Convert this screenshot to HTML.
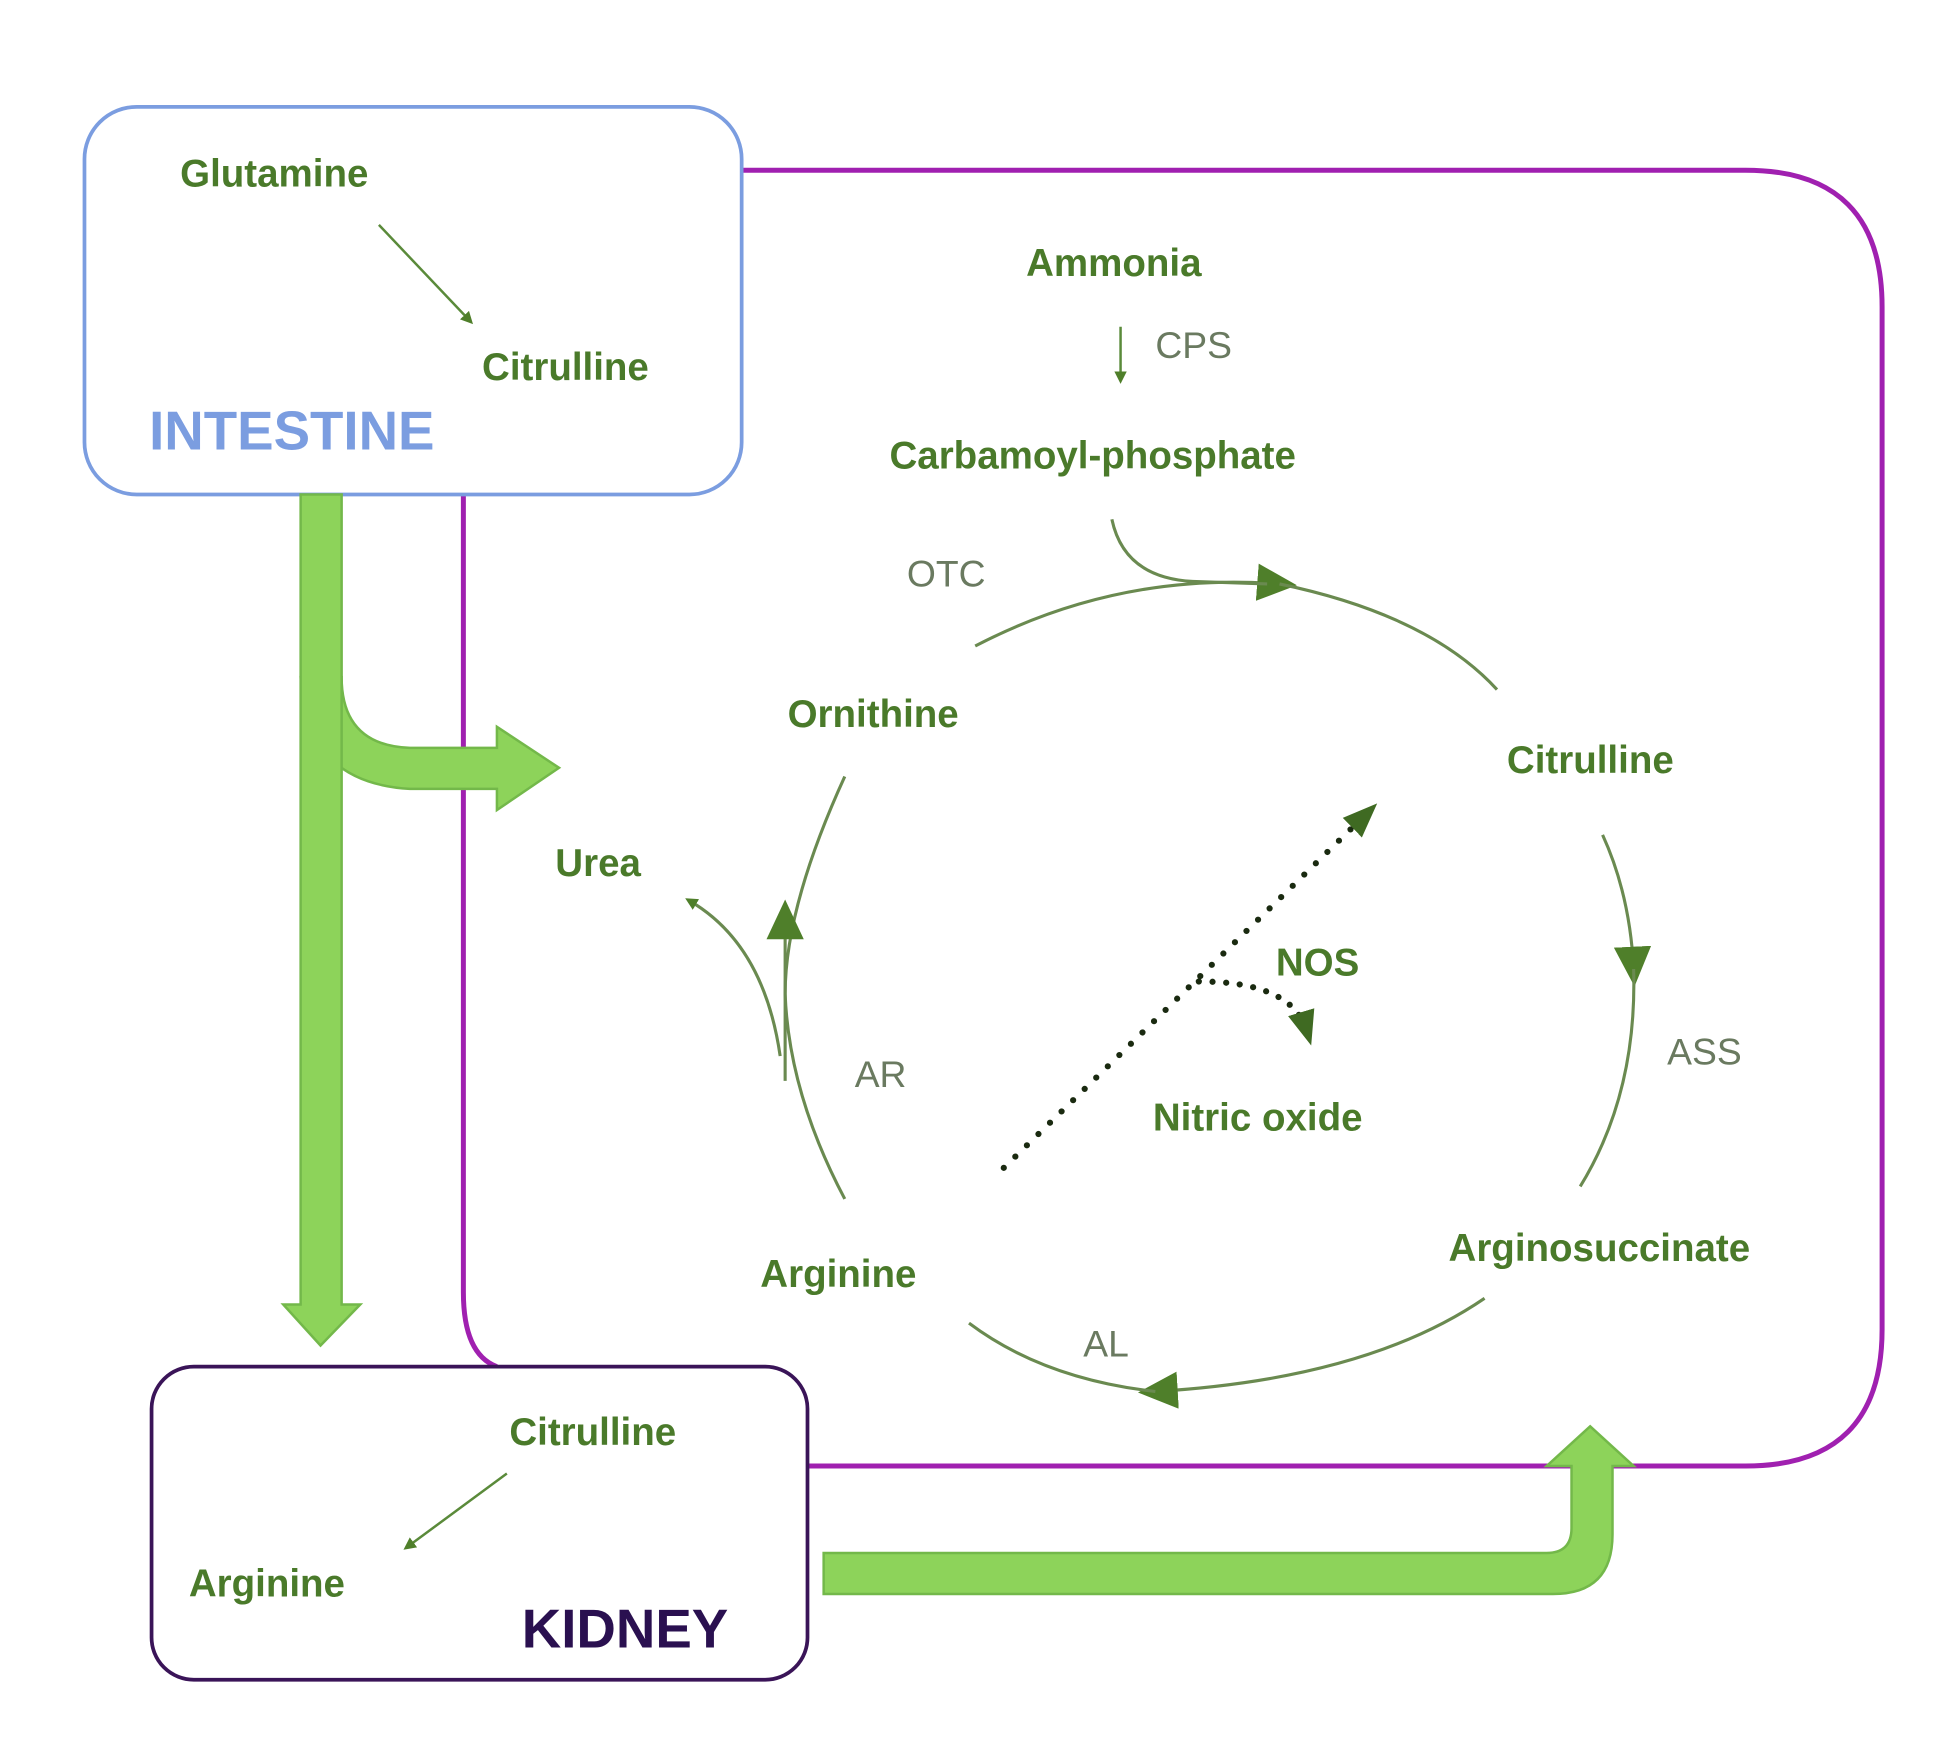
<!DOCTYPE html>
<html><head><style>html,body{margin:0;padding:0;background:#fff}svg{display:block}</style></head>
<body>
<svg width="1938" height="1758" viewBox="0 0 1560 1415" preserveAspectRatio="none" xmlns="http://www.w3.org/2000/svg">
<defs>
<marker id="ah" markerWidth="10" markerHeight="10" refX="6" refY="5" orient="auto" markerUnits="userSpaceOnUse"><path d="M0,0 L10,5 L0,10 z" fill="#4f7f2a"/></marker>
<marker id="bh" markerWidth="32" markerHeight="30" refX="18" refY="15" orient="auto" markerUnits="userSpaceOnUse"><path d="M0,0 L32,15 L0,30 z" fill="#4f7f2a"/></marker>
<marker id="dh" markerWidth="28" markerHeight="28" refX="16" refY="14" orient="auto" markerUnits="userSpaceOnUse"><path d="M0,3 L28,14 L0,25 z" fill="#3f6a22"/></marker>
</defs>
<g font-family="Liberation Sans, sans-serif">
<path d="M597,137 H1405 Q1515,137 1515,247 V1070 Q1515,1180 1405,1180 H650" fill="none" stroke="#a020b0" stroke-width="4"/>
<path d="M373,398 V1040 Q373,1090 400,1100" fill="none" stroke="#a020b0" stroke-width="4"/>
<rect x="68" y="86" width="529" height="312" rx="42" fill="#fff" stroke="#7b9de0" stroke-width="3"/>
<rect x="122" y="1100" width="528" height="252" rx="34" fill="#fff" stroke="#3a1458" stroke-width="3"/>
<g fill="#8dd35a" stroke="#73b84a" stroke-width="2">
<path d="M242,545 Q245,630 330,635 H400 V652 L450,618 L400,585 V602 H330 Q275,600 275,545 Z"/>
<path d="M242,398 H275 V1050 H290 L258,1083 L228,1050 H242 Z"/>
<path d="M663,1250 H1245 Q1265,1250 1265,1230 V1180 H1245 L1280,1148 L1315,1180 H1298 V1235 Q1298,1283 1250,1283 H663 Z"/>
</g>
<line x1="305" y1="181" x2="378" y2="258" stroke="#5a8a3a" stroke-width="2" marker-end="url(#ah)"/>
<line x1="408" y1="1186" x2="328" y2="1245" stroke="#5a8a3a" stroke-width="2" marker-end="url(#ah)"/>
<line x1="902" y1="263" x2="902" y2="305" stroke="#5a8a3a" stroke-width="2" marker-end="url(#ah)"/>
<g fill="none" stroke="#6a8a50" stroke-width="2.5">
<path d="M785,520 Q900,460 1030,470" marker-end="url(#bh)"/>
<path d="M1030,470 Q1150,495 1205,555"/>
<path d="M895,418 Q905,465 960,468 L1020,470"/>
<path d="M1290,672 Q1312,720 1315,780" marker-end="url(#bh)"/>
<path d="M1315,780 Q1318,880 1272,955"/>
<path d="M1195,1045 Q1100,1110 930,1120" marker-end="url(#bh)"/>
<path d="M930,1120 Q840,1110 780,1065"/>
<path d="M680,965 Q635,880 632,800 Q632,730 680,625"/>
<path d="M632,870 Q632,760 632,738" marker-end="url(#bh)"/>
<path d="M628,850 Q615,760 555,725" marker-end="url(#ah)"/>
</g>
<path d="M808,940 L1100,655" fill="none" stroke="#1a2a10" stroke-width="5" stroke-linecap="round" stroke-dasharray="0 13" marker-end="url(#dh)"/>
<path d="M965,790 Q1040,790 1052,830" fill="none" stroke="#1a2a10" stroke-width="5" stroke-linecap="round" stroke-dasharray="0 11" marker-end="url(#dh)"/>
<g fill="#4a7a2a" font-weight="bold" font-size="31">
<text x="145" y="150">Glutamine</text>
<text x="388" y="306">Citrulline</text>
<text x="826" y="222">Ammonia</text>
<text x="716" y="377">Carbamoyl-phosphate</text>
<text x="634" y="585">Ornithine</text>
<text x="1213" y="622">Citrulline</text>
<text x="447" y="705">Urea</text>
<text x="1027" y="785">NOS</text>
<text x="928" y="910">Nitric oxide</text>
<text x="612" y="1036">Arginine</text>
<text x="1166" y="1015">Arginosuccinate</text>
<text x="410" y="1163">Citrulline</text>
<text x="152" y="1285">Arginine</text>
</g>
<g fill="#6a7a60" font-size="30">
<text x="930" y="288">CPS</text>
<text x="730" y="472">OTC</text>
<text x="688" y="875">AR</text>
<text x="1342" y="857">ASS</text>
<text x="872" y="1092">AL</text>
</g>
<text x="120" y="362" fill="#7b9de0" font-weight="bold" font-size="44">INTESTINE</text>
<text x="420" y="1326" fill="#2a1050" font-weight="bold" font-size="44">KIDNEY</text>
</g>
</svg>
</body></html>
